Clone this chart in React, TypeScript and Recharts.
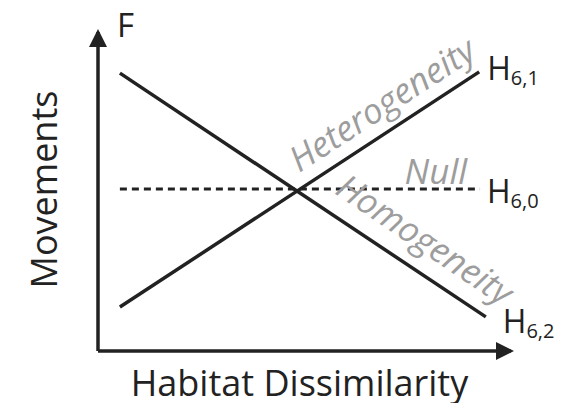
import { LineChart, Line, XAxis, YAxis, Label, ReferenceDot } from 'recharts'

// conceptual hypotheses: movements vs habitat dissimilarity (arbitrary 0-100 units)
const heteroX = [5.3, 92.3]
const heteroY = [13.8, 87.5]
const homoX = [5.3, 93.9]
const homoY = [87.1, 10.7]
const nullX = [5.3, 92.5]
const nullY = [50.8, 50.8]

const endLabels = ['6,1', '6,2', '6,0']
const curveNames = ['Heterogeneity', 'Homogeneity', 'Null']
const namePosX = [68.6, 79.3, 81.8]
const namePosY = [77.6, 35.2, 56.7]

const toPoints = (xs: number[], ys: number[]) => xs.map((x, i) => ({ x, y: ys[i] }))

const INK = '#222'
const GREY = '#9d9d9d'
const FONT = '"Open Sans", sans-serif'

function endLabel(sub: string, last: number, dx: number, dy: number) {
  return (props: any) => {
    if (props.index !== last) return null
    return (
      <text x={props.x + dx} y={props.y + dy} fill={INK} fontFamily={FONT} fontSize={32}>
        H
        <tspan fontSize={20} dy={5}>{sub}</tspan>
      </text>
    )
  }
}

function nameLabel(text: string, angle: number) {
  return (props: any) => {
    const { x, y } = props.viewBox
    return (
      <text
        x={x}
        y={y}
        fill={GREY}
        fontFamily={FONT}
        fontStyle="italic"
        fontSize={35}
        textAnchor="middle"
        dominantBaseline="central"
        transform={`rotate(${angle} ${x} ${y})`}
      >
        {text}
      </text>
    )
  }
}

const axisLine = { stroke: INK, strokeWidth: 3.5 }

export default function App() {
  const hetero = toPoints(heteroX, heteroY)
  const homo = toPoints(homoX, homoY)
  const nul = toPoints(nullX, nullY)

  return (
    <div style={{ position: 'relative', margin: -8 }}>
      <svg width={0} height={0} style={{ position: 'absolute' }}>
        <defs>
          <marker
            id="arrowHead"
            markerUnits="userSpaceOnUse"
            markerWidth={18}
            markerHeight={18}
            viewBox="0 0 18 18"
            refX={15}
            refY={9}
            orient="auto-start-reverse"
          >
            <path d="M0,0 L18,9 L0,18 z" fill={INK} />
          </marker>
        </defs>
      </svg>
      <LineChart width={585} height={411} margin={{ top: 32, right: 74, bottom: 59, left: 97 }}>
        <XAxis
          type="number"
          dataKey="x"
          domain={[0, 100]}
          height={1}
          tick={false}
          tickLine={false}
          axisLine={{ ...axisLine, markerEnd: 'url(#arrowHead)' }}
        >
          <Label
            content={(p: any) => (
              <text
                x={p.viewBox.x + p.viewBox.width / 2 - 5}
                y={p.viewBox.y + 45}
                textAnchor="middle"
                fill={INK}
                fontFamily={FONT}
                fontSize={36}
              >
                Habitat Dissimilarity
              </text>
            )}
          />
        </XAxis>
        <YAxis
          type="number"
          dataKey="y"
          domain={[0, 100]}
          width={1}
          tick={false}
          tickLine={false}
          axisLine={{ ...axisLine, markerStart: 'url(#arrowHead)' }}
        >
          <Label
            content={(p: any) => {
              const vb = p.viewBox
              const cx = vb.x + vb.width - 41
              const cy = vb.y + vb.height / 2 - 2
              return (
                <g>
                  <text x={vb.x + vb.width + 19} y={vb.y + 5} fill={INK} fontFamily={FONT} fontSize={33}>
                    F
                  </text>
                  <text
                    x={cx}
                    y={cy}
                    textAnchor="middle"
                    fill={INK}
                    fontFamily={FONT}
                    fontSize={36}
                    transform={`rotate(-90 ${cx} ${cy})`}
                  >
                    Movements
                  </text>
                </g>
              )
            }}
          />
        </YAxis>
        <Line
          data={hetero}
          dataKey="y"
          stroke={INK}
          strokeWidth={3.5}
          dot={false}
          isAnimationActive={false}
          label={endLabel(endLabels[0], hetero.length - 1, 8, 8)}
        />
        <Line
          data={homo}
          dataKey="y"
          stroke={INK}
          strokeWidth={3.5}
          dot={false}
          isAnimationActive={false}
          label={endLabel(endLabels[1], homo.length - 1, 17, 16)}
        />
        <Line
          data={nul}
          dataKey="y"
          stroke={INK}
          strokeWidth={3}
          strokeDasharray="7 5"
          dot={false}
          isAnimationActive={false}
          label={endLabel(endLabels[2], nul.length - 1, 7, 14)}
        />
        <ReferenceDot x={namePosX[0]} y={namePosY[0]} r={0} fill="none" stroke="none" label={nameLabel(curveNames[0], -33)} />
        <ReferenceDot x={namePosX[1]} y={namePosY[1]} r={0} fill="none" stroke="none" label={nameLabel(curveNames[1], 34)} />
        <ReferenceDot x={namePosX[2]} y={namePosY[2]} r={0} fill="none" stroke="none" label={nameLabel(curveNames[2], 0)} />
      </LineChart>
    </div>
  )
}
